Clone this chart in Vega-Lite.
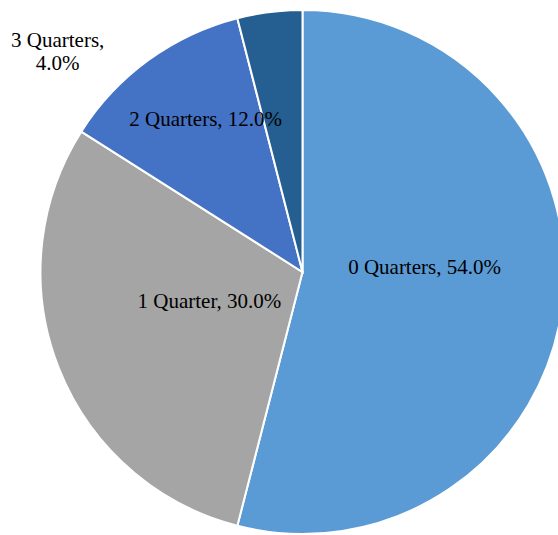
{
  "$schema": "https://vega.github.io/schema/vega-lite/v6.json",
  "width": 605,
  "height": 544,
  "padding": 0,
  "autosize": {"type": "none"},
  "background": "white",
  "config": {"view": {"stroke": null}},
  "data": {
    "values": [
      {"Category": "0 Quarters", "value": 54, "label": "0 Quarters, 54.0%"},
      {"Category": "1 Quarter", "value": 30, "label": "1 Quarter, 30.0%"},
      {"Category": "2 Quarters", "value": 12, "label": "2 Quarters, 12.0%"},
      {"Category": "3 Quarters", "value": 4, "label": "3 Quarters,\n4.0%"}
    ]
  },
  "encoding": {
    "theta": {"field": "value", "type": "quantitative", "stack": true},
    "order": {"field": "Category", "sort": "ascending"}
  },
  "layer": [
    {
      "mark": {"type": "arc", "outerRadius": 262, "stroke": "white", "strokeWidth": 2},
      "encoding": {
        "color": {
          "field": "Category",
          "type": "nominal",
          "scale": {
            "domain": ["0 Quarters", "1 Quarter", "2 Quarters", "3 Quarters"],
            "range": ["#5B9BD5", "#A5A5A5", "#4472C4", "#255E91"]
          },
          "legend": null
        }
      }
    },
    {
      "mark": {"type": "text", "radius": 123, "dy": -19, "font": "Liberation Serif", "fontSize": 21, "color": "#000000", "align": "center", "baseline": "middle"},
      "encoding": {
        "detail": {"field": "Category"},
        "text": {"condition": {"test": "datum.Category === '0 Quarters'", "field": "label"}, "value": ""}
      }
    },
    {
      "mark": {"type": "text", "radius": 98, "dx": -2, "dy": -6, "font": "Liberation Serif", "fontSize": 21, "color": "#000000", "align": "center", "baseline": "middle"},
      "encoding": {
        "detail": {"field": "Category"},
        "text": {"condition": {"test": "datum.Category === '1 Quarter'", "field": "label"}, "value": ""}
      }
    },
    {
      "mark": {"type": "text", "radius": 180, "dx": 9, "dy": -6, "font": "Liberation Serif", "fontSize": 21, "color": "#000000", "align": "center", "baseline": "middle"},
      "encoding": {
        "detail": {"field": "Category"},
        "text": {"condition": {"test": "datum.Category === '2 Quarters'", "field": "label"}, "value": ""}
      }
    },
    {
      "mark": {"type": "text", "radius": 262, "dx": -212, "dy": 29, "font": "Liberation Serif", "fontSize": 21, "lineHeight": 23, "lineBreak": "\n", "color": "#000000", "align": "center", "baseline": "middle"},
      "encoding": {
        "detail": {"field": "Category"},
        "text": {"condition": {"test": "datum.Category === '3 Quarters'", "field": "label"}, "value": ""}
      }
    }
  ]
}
